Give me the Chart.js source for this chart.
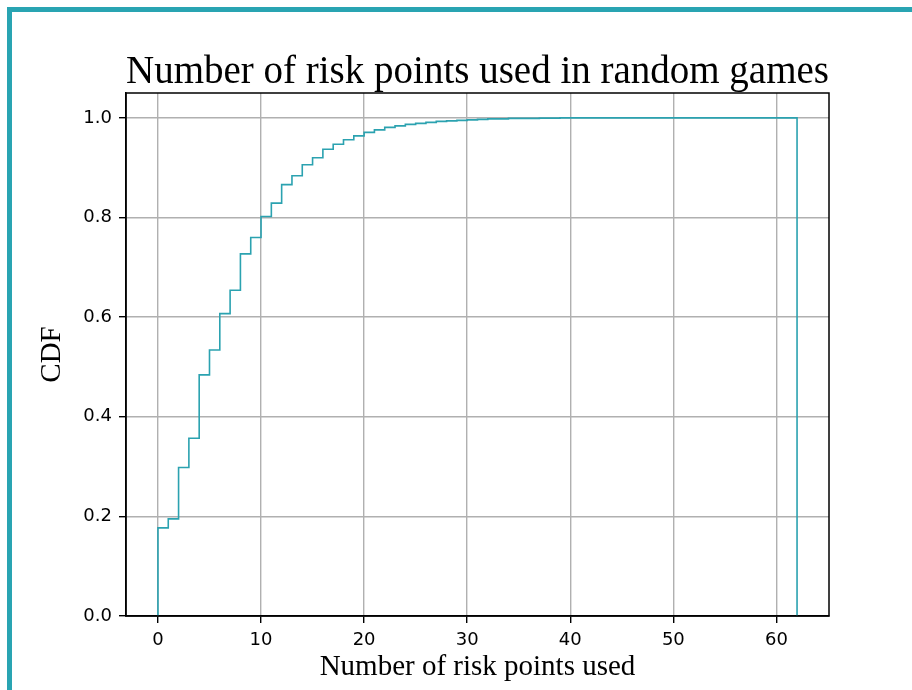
<!DOCTYPE html>
<html>
<head>
<meta charset="utf-8">
<script src="https://cdn.jsdelivr.net/npm/chart.js@4.4.1/dist/chart.umd.min.js"></script>
<style>
  body { margin: 0; background: #fff; }
  #wrap { position: relative; width: 912px; height: 690px; }
  #frame {
    position: absolute; left: 7px; top: 7px; right: 0; bottom: 0;
    border-left: 5px solid #29a4b2; border-top: 5px solid #29a4b2;
    pointer-events: none;
  }
</style>
</head>
<body>
<div id="wrap">
  <canvas id="cdfChart" width="912" height="690"></canvas>
  <div id="frame"></div>
</div>
<script>
// cumulative fraction for each unit bin [k, k+1), k = 0..61
const cdfValues = [
  0.177, 0.195, 0.298, 0.357, 0.484, 0.534, 0.607, 0.654, 0.727, 0.760,
  0.802, 0.829, 0.866, 0.884, 0.906, 0.920, 0.937, 0.947, 0.956, 0.964,
  0.971, 0.976, 0.981, 0.984, 0.987, 0.989, 0.991, 0.993, 0.994, 0.995,
  0.996, 0.997, 0.998, 0.998, 0.999, 0.999, 0.999, 0.9995, 0.9995, 1.0,
  1.0, 1.0, 1.0, 1.0, 1.0, 1.0, 1.0, 1.0, 1.0, 1.0,
  1.0, 1.0, 1.0, 1.0, 1.0, 1.0, 1.0, 1.0, 1.0, 1.0,
  1.0, 1.0
];
const xTicks = [0, 10, 20, 30, 40, 50, 60];
const yTicks = [0, 0.2, 0.4, 0.6, 0.8, 1.0];

const teal = '#2ba2b0';
const gridGray = '#b0b0b0';
const serif = "'Liberation Serif', 'DejaVu Serif', serif";
const sans = "'DejaVu Sans', sans-serif";

// step outline like matplotlib histtype='step'
const points = [{ x: 0, y: 0 }];
cdfValues.forEach((v, i) => points.push({ x: i, y: v }));
const lastEdge = cdfValues.length;
points.push({ x: lastEdge, y: cdfValues[cdfValues.length - 1] });
points.push({ x: lastEdge, y: 0 });

// top and right spines
const frameBox = {
  id: 'frameBox',
  afterDatasetsDraw(chart) {
    const { ctx, chartArea: a } = chart;
    ctx.save();
    ctx.strokeStyle = '#000';
    ctx.lineWidth = 1.5;
    ctx.strokeRect(a.left, a.top, a.right - a.left, a.bottom - a.top);
    ctx.restore();
  }
};

new Chart(document.getElementById('cdfChart'), {
  type: 'line',
  data: {
    datasets: [{
      data: points,
      stepped: 'before',
      borderColor: teal,
      borderWidth: 1.6,
      pointRadius: 0,
      fill: false
    }]
  },
  options: {
    responsive: false,
    animation: false,
    layout: { padding: { left: 0, right: 83, top: 0, bottom: 0 } },
    plugins: {
      legend: { display: false },
      tooltip: { enabled: false },
      title: {
        display: true,
        text: 'Number of risk points used in random games',
        fullSize: false,
        color: '#000',
        font: { family: serif, size: 39, weight: 'normal', lineHeight: 1.0 },
        padding: { top: 53, bottom: 1 }
      }
    },
    scales: {
      x: {
        type: 'linear',
        min: -3.1,
        max: 65.1,
        afterBuildTicks: s => { s.ticks = xTicks.map(v => ({ value: v })); },
        afterFit: s => { s.height = 74; },
        ticks: {
          color: '#000',
          font: { family: sans, size: 18 },
          padding: 7,
          maxRotation: 0,
          callback: v => String(v)
        },
        grid: { color: gridGray, lineWidth: 1.4, tickColor: '#000', tickLength: 7, tickWidth: 1.4 },
        border: { color: '#000', width: 1.5 },
        title: {
          display: true,
          text: 'Number of risk points used',
          color: '#000',
          font: { family: serif, size: 29, weight: 'normal' },
          padding: { top: 0, bottom: 5 }
        }
      },
      y: {
        type: 'linear',
        min: 0,
        max: 1.05,
        afterBuildTicks: s => { s.ticks = yTicks.map(v => ({ value: v })); },
        afterFit: s => { s.width = 126; },
        ticks: {
          color: '#000',
          font: { family: sans, size: 18 },
          padding: 7,
          callback: v => v.toFixed(1)
        },
        grid: { color: gridGray, lineWidth: 1.4, tickColor: '#000', tickLength: 7, tickWidth: 1.4 },
        border: { color: '#000', width: 1.5 },
        title: {
          display: true,
          text: 'CDF',
          color: '#000',
          font: { family: serif, size: 29, weight: 'normal' },
          padding: { top: 35, bottom: 0 }
        }
      }
    }
  },
  plugins: [frameBox]
});
</script>
</body>
</html>
